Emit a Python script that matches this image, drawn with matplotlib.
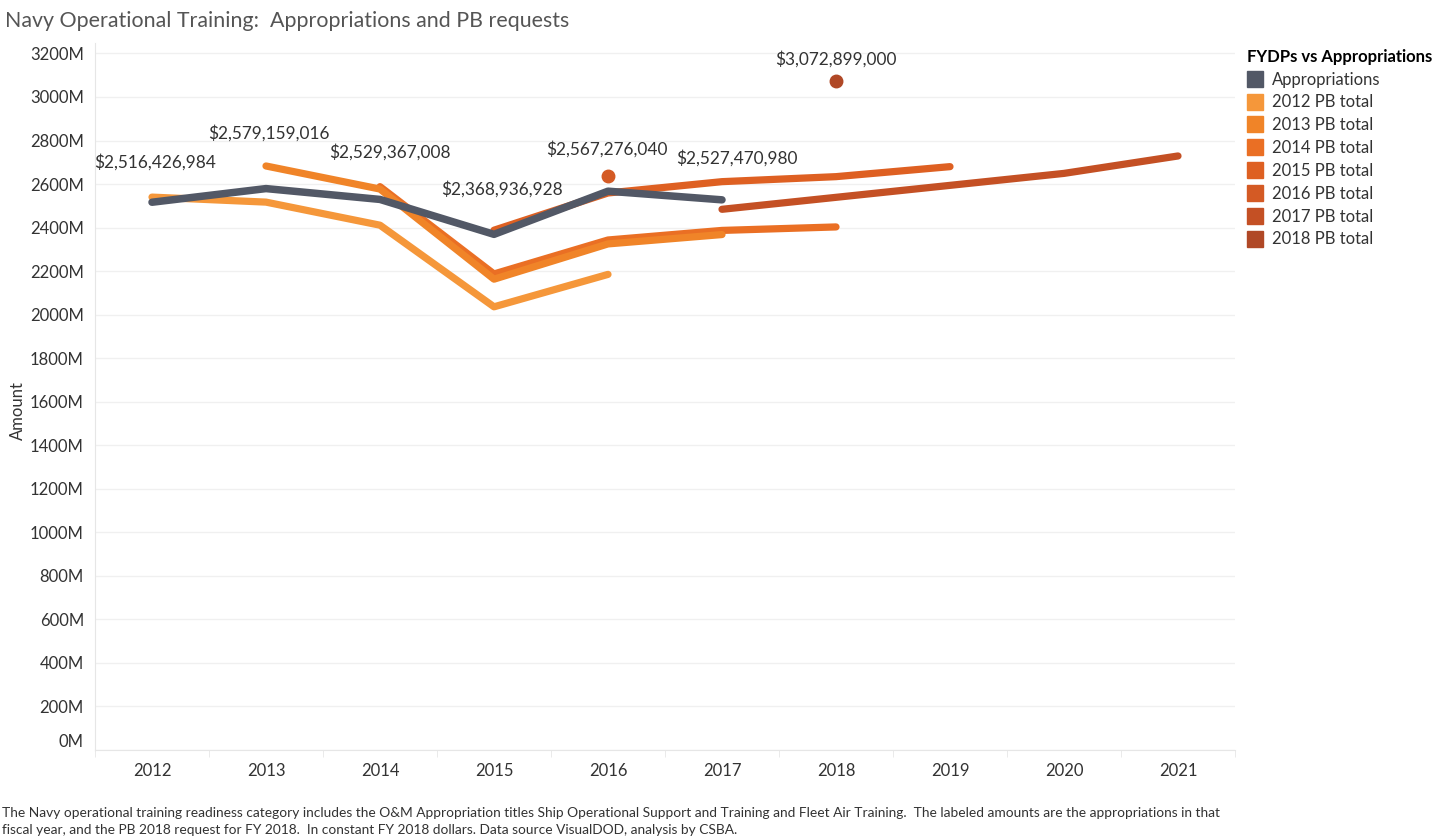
import matplotlib.pyplot as plt
from matplotlib.lines import Line2D
from matplotlib.ticker import FuncFormatter, MultipleLocator
import numpy as np

plt.rcParams['font.family'] = ['Lato', 'DejaVu Sans']

# appropriations, exact dollars (from the labels)
approp_years = [2012, 2013, 2014, 2015, 2016, 2017]
approp = [2516426984, 2579159016, 2529367008, 2368936928, 2567276040, 2527470980]

# PB requests, millions of dollars
pb2012_years = [2012, 2013, 2014, 2015, 2016]
pb2012 = [2540, 2517, 2411, 2036, 2185]
pb2013_years = [2013, 2014, 2015, 2016, 2017]
pb2013 = [2683, 2577, 2163, 2325, 2368]
pb2014_years = [2014, 2015, 2016, 2017, 2018]
pb2014 = [2588, 2187, 2343, 2387, 2403]
pb2015_years = [2015, 2016, 2017, 2018, 2019]
pb2015 = [2388, 2559, 2611, 2634, 2680]
pb2016_years = [2016]
pb2016 = [2637]
pb2017_years = [2017, 2018, 2019, 2020, 2021]
pb2017 = [2484, 2539, 2594, 2649, 2729]
pb2018_years = [2018]
pb2018 = [3072899000 / 1e6]

labels = ['Appropriations', '2012 PB total', '2013 PB total', '2014 PB total',
          '2015 PB total', '2016 PB total', '2017 PB total', '2018 PB total']
colors = ['#525866', '#f5973a', '#f08428', '#ea6f24', '#de6022', '#d45a24', '#c45024', '#b04826']

fig = plt.figure(figsize=(14.35, 8.39), dpi=100)
ax = fig.add_axes([95 / 1435, 1 - 750 / 839, 1140 / 1435, 707 / 839])

pb_series = [(pb2012_years, pb2012), (pb2013_years, pb2013), (pb2014_years, pb2014),
             (pb2015_years, pb2015), (pb2016_years, pb2016), (pb2017_years, pb2017),
             (pb2018_years, pb2018)]
draw_order = [0, 2, 1, 3, 4, 5, 6]
for i in draw_order:
    yrs, vals = pb_series[i]
    c = colors[i + 1]
    if len(yrs) == 1:
        ax.plot(yrs, vals, 'o', color=c, markersize=9, zorder=3)
    else:
        ax.plot(yrs, vals, color=c, lw=5.2, solid_capstyle='round',
                solid_joinstyle='round', zorder=3)

approp_m = np.array(approp) / 1e6
ax.plot(approp_years, approp_m, color=colors[0], lw=5.4, solid_capstyle='round',
        solid_joinstyle='round', zorder=4)

# value labels
label_offsets = [(3, 40), (3, 55), (10, 47), (8, 45), (-1, 42), (15, 42)]
for yr, v, off in zip(approp_years, approp, label_offsets):
    ax.annotate('${:,.0f}'.format(v), (yr, v / 1e6), xytext=off,
                textcoords='offset pixels', ha='center', va='center',
                fontsize=12.4, color='#333333', zorder=5)
ax.annotate('${:,.0f}'.format(pb2018[0] * 1e6), (pb2018_years[0], pb2018[0]),
            xytext=(0, 22), textcoords='offset pixels', ha='center', va='center',
            fontsize=12.4, color='#333333', zorder=5)

ax.set_xlim(2011.5, 2021.5)
ax.set_ylim(0, 3248)
ax.set_xticks(range(2012, 2022))
ax.xaxis.set_minor_locator(MultipleLocator(1, offset=0.5))
ax.yaxis.set_major_locator(MultipleLocator(200))
ax.yaxis.set_major_formatter(FuncFormatter(lambda v, p: '%dM' % v))
ax.tick_params(axis='x', which='major', length=0, pad=9, labelsize=12, labelcolor='#333333')
ax.tick_params(axis='x', which='minor', length=5, color='#e6e6e6')
ax.tick_params(axis='y', length=0, pad=8, labelsize=12, labelcolor='#333333')
ax.grid(axis='y', color='#f0f0f0', lw=1)
ax.set_axisbelow(True)
for s in ['top', 'right']:
    ax.spines[s].set_visible(False)
for s in ['left', 'bottom']:
    ax.spines[s].set_color('#e6e6e6')
for t in ax.get_yticklabels():
    if t.get_text() == '0M':
        t.set_va('bottom')
ax.set_ylabel('Amount', fontsize=12, color='#333333')
ax.yaxis.set_label_coords((26 - 95) / 1140, 0.48)

fig.text(5 / 1435, 1 - 21 / 839, 'Navy Operational Training:  Appropriations and PB requests',
         fontsize=15.4, color='#555555', va='center', ha='left')

handles = [Line2D([], [], marker='s', ls='', color=c, markersize=11) for c in colors]
leg = fig.legend(handles, labels, loc='upper left', bbox_to_anchor=(1240 / 1435, 1 - 42 / 839),
                 frameon=False, fontsize=12, title='FYDPs vs Appropriations',
                 title_fontproperties={'size': 12, 'weight': 'bold'},
                 handlelength=1, handletextpad=0.5, labelspacing=0.41, borderaxespad=0)
leg._legend_box.align = 'left'
for t in leg.get_texts():
    t.set_color('#333333')

fig.text(2 / 1435, 1 - 813 / 839,
         'The Navy operational training readiness category includes the O&M Appropriation titles '
         'Ship Operational Support and Training and Fleet Air Training.  The labeled amounts are the '
         'appropriations in that', fontsize=9.9, color='#333333', va='center')
fig.text(2 / 1435, 1 - 830 / 839,
         'fiscal year, and the PB 2018 request for FY 2018.  In constant FY 2018 dollars. '
         'Data source VisualDOD, analysis by CSBA.', fontsize=9.9, color='#333333', va='center')

fig.savefig('out.png', dpi=100)
